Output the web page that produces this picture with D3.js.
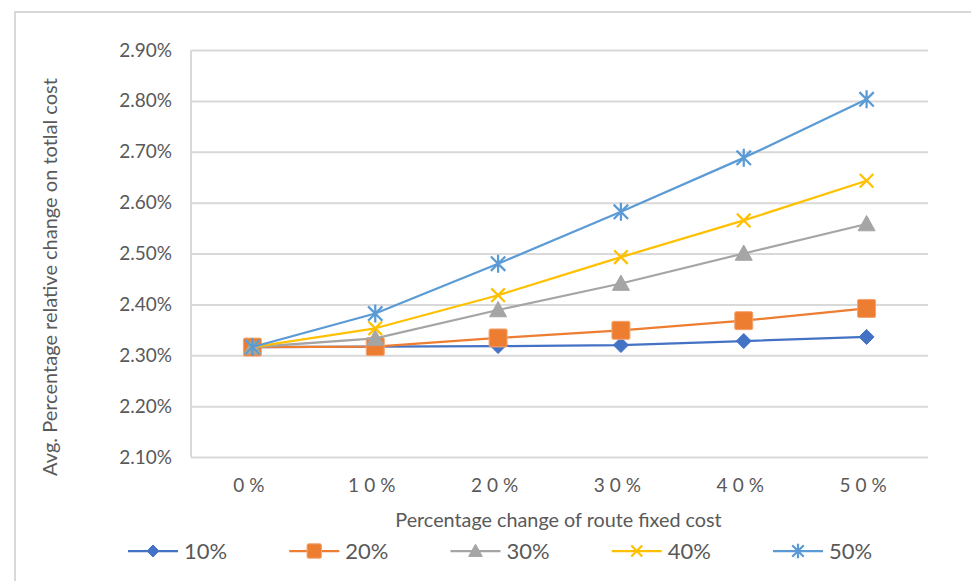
<!DOCTYPE html>
<html>
<head>
<meta charset="utf-8">
<script src="https://cdn.jsdelivr.net/npm/d3@7"></script>
<style>
  html, body { margin: 0; padding: 0; background: #fff; }
  svg text { font-family: Lato, "Open Sans", sans-serif; fill: #595959; }
</style>
</head>
<body>
<svg id="chart" width="971" height="581"></svg>
<script>
// Percentage change of route fixed cost (x categories)
const categories = ["0%", "10%", "20%", "30%", "40%", "50%"];

// Average percentage relative change on total cost, in percent
const series10 = [2.316, 2.317, 2.318, 2.320, 2.328, 2.336];
const series20 = [2.316, 2.317, 2.334, 2.349, 2.368, 2.392];
const series30 = [2.316, 2.333, 2.389, 2.441, 2.500, 2.558];
const series40 = [2.316, 2.353, 2.418, 2.493, 2.565, 2.643];
const series50 = [2.316, 2.382, 2.480, 2.582, 2.688, 2.803];

const seriesNames = ["10%", "20%", "30%", "40%", "50%"];
const seriesColors = ["#4472C4", "#ED7D31", "#A5A5A5", "#FFC000", "#5B9BD5"];
const seriesMarkers = ["diamond", "square", "triangle", "x", "star"];

const yTicks = [2.10, 2.20, 2.30, 2.40, 2.50, 2.60, 2.70, 2.80, 2.90];

const seriesList = [series10, series20, series30, series40, series50].map((values, i) => ({
  name: seriesNames[i], color: seriesColors[i], marker: seriesMarkers[i], values
}));

const svg = d3.select("#chart");
const plot = { left: 191, right: 928, top: 50, bottom: 457 };

// Chart frame
svg.append("rect")
  .attr("x", 15).attr("y", 12)
  .attr("width", 1000).attr("height", 1000)
  .attr("fill", "none").attr("stroke", "#d9d9d9").attr("stroke-width", 2);

const x = d3.scalePoint().domain(categories).range([plot.left, plot.right]).padding(0.5);
const y = d3.scaleLinear().domain([2.10, 2.90]).range([plot.bottom, plot.top]);

// Horizontal gridlines + y tick labels
const yAxis = d3.axisLeft(y)
  .tickValues(yTicks)
  .tickSize(-(plot.right - plot.left))
  .tickPadding(19)
  .tickFormat(d => d.toFixed(2) + "%");

const gy = svg.append("g").attr("transform", `translate(${plot.left},0)`).call(yAxis);
gy.select(".domain").remove();
gy.selectAll(".tick line").attr("stroke", "#d9d9d9").attr("stroke-width", 2);
gy.selectAll(".tick text").attr("font-size", 19).attr("fill", "#595959")
  .attr("font-family", "Lato, sans-serif");

// Vertical axis line
svg.append("line")
  .attr("x1", plot.left).attr("x2", plot.left)
  .attr("y1", plot.top).attr("y2", plot.bottom)
  .attr("stroke", "#d9d9d9").attr("stroke-width", 2);

// X tick labels
const xAxis = d3.axisBottom(x).tickSize(0).tickPadding(22);
const gx = svg.append("g").attr("transform", `translate(0,${plot.bottom})`).call(xAxis);
gx.select(".domain").remove();
gx.selectAll(".tick text")
  .attr("font-size", 19).attr("fill", "#595959")
  .attr("font-family", "Lato, sans-serif")
  .attr("letter-spacing", "5px")
  .attr("dx", "-1.5px");

// Axis titles
svg.append("text")
  .attr("x", (plot.left + plot.right) / 2 - 1).attr("y", 527)
  .attr("text-anchor", "middle").attr("font-size", 19.8)
  .text("Percentage change of route fixed cost");

svg.append("text")
  .attr("transform", "translate(57,277) rotate(-90)")
  .attr("text-anchor", "middle").attr("font-size", 20)
  .text("Avg. Percentage relative change on totlal cost");

// Marker shapes
function drawMarker(g, type, color, size) {
  const s = size / 2;
  if (type === "diamond") {
    g.append("path").attr("d", `M0,${-s}L${s},0L0,${s}L${-s},0Z`)
      .attr("fill", color).attr("stroke", color).attr("stroke-width", 1);
  } else if (type === "square") {
    g.append("rect").attr("x", -s).attr("y", -s).attr("width", size).attr("height", size)
      .attr("rx", 1.5).attr("fill", color).attr("stroke", "#f4a470").attr("stroke-width", 1);
  } else if (type === "triangle") {
    g.append("path").attr("d", `M0,${-s}L${s},${s * 0.8}L${-s},${s * 0.8}Z`)
      .attr("fill", color).attr("stroke", color).attr("stroke-width", 1);
  } else if (type === "x") {
    const r = s * 0.8;
    g.append("path").attr("d", `M${-r},${-r}L${r},${r}M${-r},${r}L${r},${-r}`)
      .attr("stroke", color).attr("stroke-width", 2.25).attr("fill", "none");
  } else if (type === "star") {
    const r = s * 0.8;
    g.append("path").attr("d", `M${-r},${-r}L${r},${r}M${-r},${r}L${r},${-r}M0,${-s}L0,${s}`)
      .attr("stroke", color).attr("stroke-width", 2.25).attr("fill", "none");
  }
}

const markerSize = { diamond: 15, square: 18, triangle: 17, x: 17, star: 18 };

const line = d3.line().x((d, i) => x(categories[i])).y(d => y(d));

seriesList.forEach(s => {
  const g = svg.append("g");
  g.append("path").datum(s.values)
    .attr("d", line).attr("fill", "none")
    .attr("stroke", s.color).attr("stroke-width", 2.25)
    .attr("stroke-linejoin", "round");
  s.values.forEach((v, i) => {
    const m = g.append("g").attr("transform", `translate(${x(categories[i])},${y(v)})`);
    drawMarker(m, s.marker, s.color, markerSize[s.marker]);
  });
});

// Legend
const legendX = d3.scalePoint().domain(seriesNames).range([128, 773]);
seriesList.forEach(s => {
  const lx = legendX(s.name);
  const g = svg.append("g").attr("transform", `translate(${lx},551)`);
  g.append("line").attr("x1", 0).attr("x2", 50).attr("y1", 0).attr("y2", 0)
    .attr("stroke", s.color).attr("stroke-width", 2.25);
  const m = g.append("g").attr("transform", "translate(25,0)");
  drawMarker(m, s.marker, s.color, markerSize[s.marker] * 0.8);
  g.append("text").attr("x", 56).attr("y", 0).attr("dy", "0.36em")
    .attr("font-size", 22).text(s.name);
});
</script>
</body>
</html>
